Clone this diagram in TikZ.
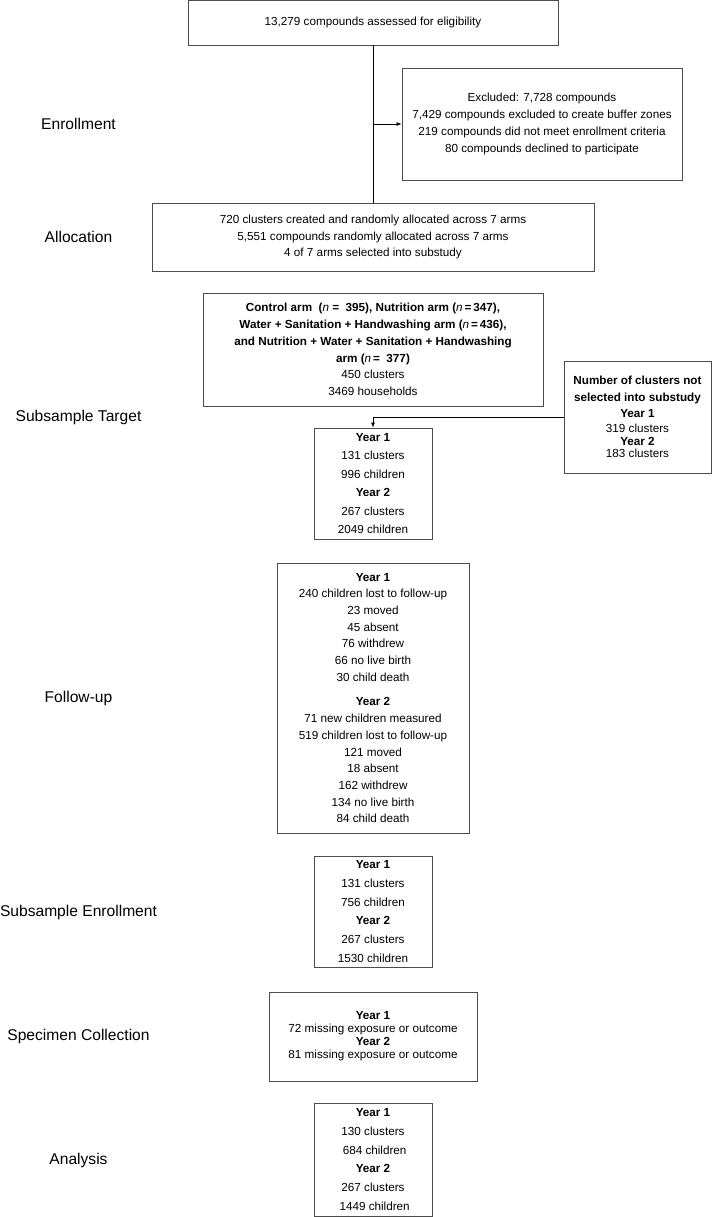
\documentclass[tikz,border=0pt]{standalone}
\usepackage{fontspec}
\setmainfont{Liberation Sans}
\usetikzlibrary{arrows.meta}

\definecolor{boxgray}{gray}{0.3}
\newcommand{\bodyfont}{\fontsize{11.7}{16.7}\selectfont}
\newcommand{\stagefont}{\fontsize{15.6}{18}\selectfont}
\newcommand{\nn}{\textnormal{\textit{n}}}

\begin{document}
\begin{tikzpicture}[x=1pt,y=-1pt,
    box/.style={draw=boxgray,line width=0.8pt,inner sep=0pt,align=center,font=\bodyfont},
    stage/.style={font=\stagefont,inner sep=0pt},
    link/.style={line width=0.8pt},
    arr/.style={link,-{Latex[length=5pt,width=4pt]}}]
    \useasboundingbox (0,0) rectangle (712,1217);

    %stages
    \node[stage] (enroll) at (78.5,124) {Enrollment};
    \node[stage] (allocate) at (78.5,237) {Allocation};
    \node[stage] (target-lbl) at (78.5,417) {Subsample Target};
    \node[stage] (follow-lbl) at (78.5,698) {Follow-up};
    \node[stage] (subenroll-lbl) at (78.5,912) {Subsample Enrollment};
    \node[stage] (specimen-lbl) at (78.5,1036.5) {Specimen Collection};
    \node[stage] (analysis-lbl) at (78.5,1160) {Analysis};

    %boxes
    \node[box,minimum width=370,minimum height=44.5] (assess) at (373,22.75)
        {13,279 compounds assessed for eligibility};

    \node[box,minimum width=280,minimum height=112] (excluded) at (542,124)
        {Excluded: 7,728 compounds\\
         7,429 compounds excluded to create buffer zones\\
         219 compounds did not meet enrollment criteria\\
         80 compounds declined to participate};

    \node[box,minimum width=442,minimum height=68] (alloc) at (373,237)
        {720 clusters created and randomly allocated across 7 arms\\
         5,551 compounds randomly allocated across 7 arms\\
         4 of 7 arms selected into substudy};

    \node[box,minimum width=340,minimum height=113] (arms) at (373,349.5)
        {\textbf{Control arm\ \ (\nn\ = \ 395), Nutrition arm (\nn\,=\,347),}\\
         \textbf{Water + Sanitation + Handwashing arm (\nn\,=\,436),}\\
         \textbf{and Nutrition + Water + Sanitation + Handwashing}\\
         \textbf{arm (\nn\,= \ 377)}\\
         450 clusters\\
         3469 households};

    \node[box,minimum width=147,minimum height=112] (notsel) at (637.5,417)
        {\textbf{Number of clusters not}\\
         \textbf{selected into substudy}\\
         \textbf{Year 1}\\[-2pt]
         319 clusters\\[-4pt]
         \textbf{Year 2}\\[-4pt]
         183 clusters};

    \node[box,minimum width=118,minimum height=111] (target) at (373,483.5)
        {\textbf{Year 1}\\[1.7pt]
         131 clusters\\[1.7pt]
         996 children\\[1.7pt]
         \textbf{Year 2}\\[1.7pt]
         267 clusters\\[1.7pt]
         2049 children};

    \node[box,minimum width=192,minimum height=270] (followup) at (373,698)
        {\textbf{Year 1}\\
         240 children lost to follow-up\\
         23 moved\\
         45 absent\\
         76 withdrew\\
         66 no live birth\\
         30 child death\\[8pt]
         \textbf{Year 2}\\
         71 new children measured\\
         519 children lost to follow-up\\
         121 moved\\
         18 absent\\
         162 withdrew\\
         134 no live birth\\
         84 child death};

    \node[box,minimum width=118,minimum height=111] (subenroll) at (373,911.5)
        {\textbf{Year 1}\\[2pt]
         131 clusters\\[2pt]
         756 children\\[2pt]
         \textbf{Year 2}\\[2pt]
         267 clusters\\[2pt]
         1530 children};

    \node[box,minimum width=208,minimum height=89] (specimen) at (373,1036.5)
        {\textbf{Year 1}\\[-3.7pt]
         72 missing exposure or outcome\\[-3.7pt]
         \textbf{Year 2}\\[-3.7pt]
         81 missing exposure or outcome};

    \node[box,minimum width=118,minimum height=113] (analysis) at (373,1159.5)
        {\textbf{Year 1}\\[2pt]
         130 clusters\\[2pt]
         \ 684 children\\[2pt]
         \textbf{Year 2}\\[2pt]
         267 clusters\\[2pt]
         \ 1449 children};

    %connectors
    \draw[link] (assess.south) -- (alloc.north);
    \draw[arr] (assess.south |- excluded.west) -- (excluded.west);
    \draw[arr] (notsel.west) -| (target.north);
\end{tikzpicture}
\end{document}
